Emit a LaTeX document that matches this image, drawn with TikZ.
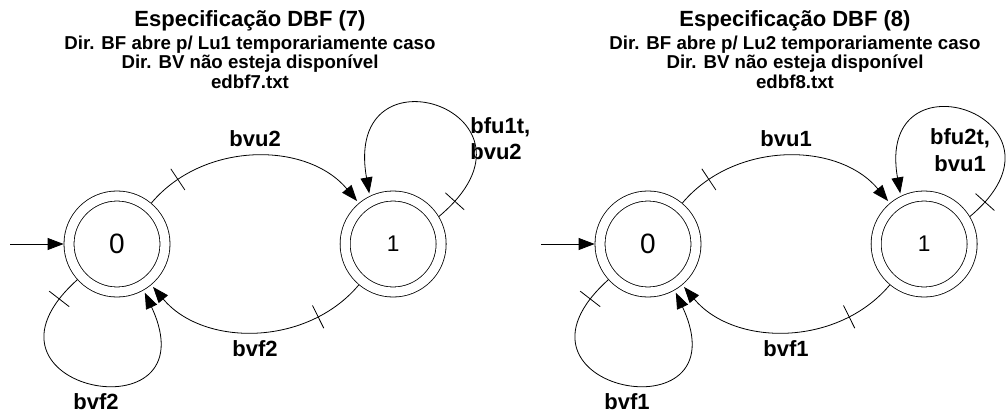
\documentclass[tikz,border=0pt]{standalone}
\usepackage{fontspec}
\setmainfont{Liberation Sans}
\usetikzlibrary{arrows.meta, positioning}

\begin{document}
\begin{tikzpicture}[
  x=0.75pt, y=0.75pt,
  accstate/.style={circle, draw, double, double distance=6.9pt, line width=0.6pt,
    minimum size=72pt, inner sep=0pt, outer sep=4.05pt},
  arr/.style={-{Triangle[length=12pt, width=9pt]}, line width=0.6pt, shorten >=2pt},
  tickmark/.style={sloped, draw, line width=0.6pt, inner sep=0pt,
    minimum width=0pt, minimum height=19pt},
  lbl/.style={font=\fontsize{16.5}{20}\selectfont\bfseries, inner sep=2pt},
  head/.style={font=\fontsize{14}{14.5}\selectfont\bfseries, align=center,
    inner sep=0pt, anchor=north},
  node distance=127pt
]
\useasboundingbox (0,0) rectangle (1007,-414);

% Especificacao DBF (7)
\node[head] (titlel) at (250,-10.6) {{\fontsize{16.5}{17}\selectfont Especificação DBF (7)}\\[2.5pt]
  Dir. BF abre p/ Lu1 temporariamente caso\\
  Dir. BV não esteja disponível\\
  edbf7.txt};
\node[accstate, font=\fontsize{21}{21}\selectfont] (q0l) at (117,-244) {0};
\node[accstate, font=\fontsize{17}{17}\selectfont, right=of q0l] (q1l) {1};
\coordinate[left=40pt of q0l] (i0l);

\draw[arr, shorten >=0pt] (i0l) -- (q0l);
\draw[arr] (q0l) to[bend left=50]
  node[tickmark, pos=0.15] {}
  node[lbl, midway, above=5pt] (bvul) {bvu2} (q1l);
\draw[arr] (q1l) to[bend left=50]
  node[tickmark, pos=0.22] {}
  node[lbl, midway, below=4.5pt] (bvfl) {bvf2} (q0l);
\draw[arr] (q0l.222) .. controls +(222:165) and +(295:165) .. (q0l.300)
  node[tickmark, pos=0.06] {}
  node[lbl, pos=0.5, below=6pt, xshift=4pt] (bvfll) {bvf2};
\draw[arr] (q1l.31) .. controls +(40:160) and +(100:160) .. (q1l.116)
  node[tickmark, pos=0.05] {};
\node[lbl, align=left, anchor=west] (bful) at ([xshift=55.7pt, yshift=79pt]q1l.center) {bfu1t,\\bvu2};

% Especificacao DBF (8)
\node[head] (titler) at (795,-10.6) {{\fontsize{16.5}{17}\selectfont Especificação DBF (8)}\\[2.5pt]
  Dir. BF abre p/ Lu2 temporariamente caso\\
  Dir. BV não esteja disponível\\
  edbf8.txt};
\node[accstate, font=\fontsize{21}{21}\selectfont] (q0r) at (648,-244) {0};
\node[accstate, font=\fontsize{17}{17}\selectfont, right=of q0r] (q1r) {1};
\coordinate[left=40pt of q0r] (i0r);

\draw[arr, shorten >=0pt] (i0r) -- (q0r);
\draw[arr] (q0r) to[bend left=50]
  node[tickmark, pos=0.15] {}
  node[lbl, midway, above=5pt] (bvur) {bvu1} (q1r);
\draw[arr] (q1r) to[bend left=50]
  node[tickmark, pos=0.22] {}
  node[lbl, midway, below=4.5pt] (bvfr) {bvf1} (q0r);
\draw[arr] (q0r.222) .. controls +(222:165) and +(295:165) .. (q0r.300)
  node[tickmark, pos=0.06] {}
  node[lbl, pos=0.5, below=6pt, xshift=4pt] (bvfrr) {bvf1};
\draw[arr] (q1r.31) .. controls +(40:152) and +(100:152) .. (q1r.116)
  node[tickmark, pos=0.05] {};
\node[lbl, align=center] (bfur) at ([xshift=27pt, yshift=70.3pt]q1r.center) {bfu2t,\\bvu1};
\end{tikzpicture}
\end{document}
